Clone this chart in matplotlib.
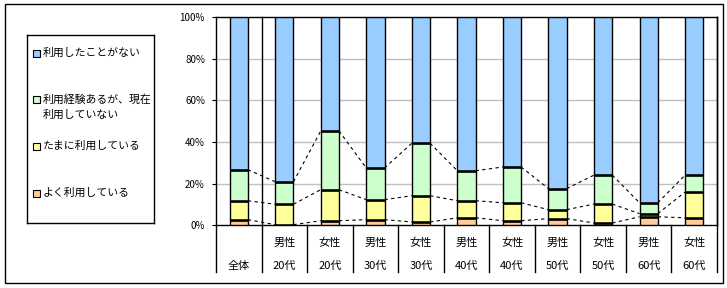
import numpy as np
import matplotlib
matplotlib.use("Agg")
import matplotlib.pyplot as plt
from matplotlib.patches import Rectangle
from matplotlib.lines import Line2D
import matplotlib.transforms as mtransforms

plt.rcParams['font.family'] = ['Noto Sans CJK JP', 'DejaVu Sans']

# data (percent)
gender = ['', '男性', '女性', '男性', '女性', '男性', '女性', '男性', '女性', '男性', '女性']
age = ['全体', '20代', '20代', '30代', '30代', '40代', '40代', '50代', '50代', '60代', '60代']
often = [2.7, 0.3, 2.2, 2.7, 1.6, 3.6, 2.2, 3.2, 1.1, 4.1, 3.6]
sometimes = [9.1, 9.8, 14.9, 9.6, 12.6, 8.2, 8.6, 4.3, 9.1, 1.5, 12.4]
not_now = [14.9, 10.8, 28.2, 15.2, 25.2, 14.4, 17.2, 10.1, 13.9, 5.2, 8.1]
never = [73.3, 79.1, 54.7, 72.5, 60.6, 73.8, 72.0, 82.4, 75.9, 89.2, 75.9]

series = [often, sometimes, not_now, never]
names = ['よく利用している', 'たまに利用している', ['利用経験あるが、現在', '利用していない'], '利用したことがない']
colors = ['#FFCC99', '#FFFF99', '#CCFFCC', '#99CCFF']

W, H = 727, 288
fig = plt.figure(figsize=(W / 100, H / 100), dpi=100)
fig.patches.append(Rectangle((5 / W, 5 / H), 718 / W, 279 / H, transform=fig.transFigure,
                             fill=False, ec='black', lw=1))

ax = fig.add_axes([216 / W, (H - 225.3) / H, 501 / W, 208.3 / H])
x = np.arange(len(age))
bw = 0.4
bottom = np.zeros(len(age))
levels = []
for vals, c in zip(series, colors):
    vals = np.array(vals)
    ax.bar(x, vals, bw, bottom=bottom, color=c, edgecolor='black', linewidth=1, zorder=3)
    bottom = bottom + vals
    levels.append(bottom.copy())

# thicker boundaries between segments + series lines between bars
for lv in levels[:3]:
    ax.hlines(lv, x - bw / 2, x + bw / 2, color='black', lw=1.8, zorder=4)
    for i in range(len(x) - 1):
        ax.plot([x[i] + bw / 2, x[i + 1] - bw / 2], [lv[i], lv[i + 1]], color='black',
                lw=0.8, ls=(0, (3, 3)), zorder=2)

ax.set_xlim(-0.5, len(x) - 0.5)
ax.set_ylim(0, 100)
ax.set_yticks([0, 20, 40, 60, 80, 100])
ax.set_yticklabels(['0%', '20%', '40%', '60%', '80%', '100%'], fontsize=7)
ax.tick_params(axis='y', length=3, width=0.8, pad=5, direction='out')
ax.set_xticks([])
for y in [20, 40, 60, 80]:
    ax.axhline(y, color='#C0C0C0', lw=1, zorder=1)
for s in ax.spines.values():
    s.set_linewidth(1)
ax.spines['left'].set_visible(False)

trans = mtransforms.blended_transform_factory(ax.transData, ax.transAxes)
low = -0.225
# left, right axis lines extended down
ax.add_line(Line2D([-0.5, -0.5], [1, low], transform=trans, color='black', lw=1, clip_on=False))
ax.add_line(Line2D([len(x) - 0.5, len(x) - 0.5], [1, low], transform=trans, color='black', lw=1, clip_on=False))
ax.add_line(Line2D([0.5, 0.5], [1, low], transform=trans, color='black', lw=1, clip_on=False, zorder=4))
for i in range(1, len(x) - 1):
    ax.add_line(Line2D([i + 0.5, i + 0.5], [0, low], transform=trans, color='black', lw=1, clip_on=False))

for i in range(len(x)):
    if gender[i]:
        ax.text(x[i], -0.085, gender[i], transform=trans, ha='center', va='center', fontsize=8)
    ax.text(x[i], -0.195, age[i], transform=trans, ha='center', va='center', fontsize=8)

# legend box
lax = fig.add_axes([27 / W, (H - 223) / H, 127 / W, 188 / H])
lax.set_xlim(0, 127)
lax.set_ylim(188, 0)
lax.set_xticks([])
lax.set_yticks([])
for s in lax.spines.values():
    s.set_linewidth(1)
ly = [158, 111, 64.5, 18]
for name, c, yy in zip(names, colors, ly):
    lax.add_patch(Rectangle((6, yy - 3.5), 7, 7, facecolor=c, edgecolor='black', lw=0.8))
    lines = name if isinstance(name, list) else [name]
    for k, t in enumerate(lines):
        lax.text(15.5, yy + 14.7 * k, t, fontsize=7.8, va='center', ha='left')

fig.savefig('out.png', dpi=100)
